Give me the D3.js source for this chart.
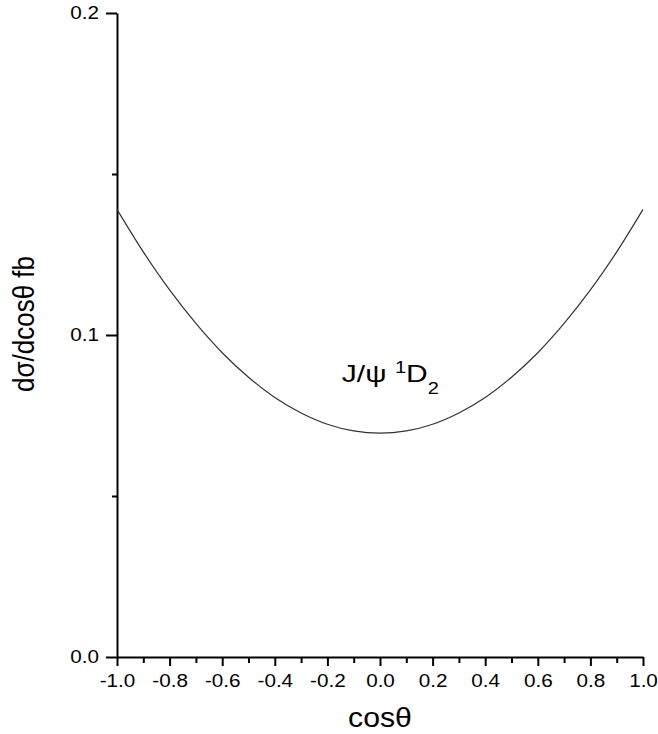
<!DOCTYPE html>
<html>
<head>
<meta charset="utf-8">
<script src="https://cdn.jsdelivr.net/npm/d3@7"></script>
<style>
  body { margin: 0; background: #fff; }
  text { font-family: "Liberation Sans", Arial, sans-serif; }
</style>
</head>
<body>
<div id="chart"></div>
<script>
// values
const cosTheta = [-1.0, -0.9, -0.8, -0.7, -0.6, -0.5, -0.4, -0.3, -0.2, -0.1, 0.0,
                  0.1, 0.2, 0.3, 0.4, 0.5, 0.6, 0.7, 0.8, 0.9, 1.0]
const dSigma = [0.139, 0.1258, 0.114, 0.1036, 0.0945, 0.0869, 0.0806, 0.0758, 0.0723, 0.0702, 0.0695,
                0.0702, 0.0723, 0.0758, 0.0806, 0.0869, 0.0945, 0.1036, 0.114, 0.1258, 0.139]
const xTicks = [-1.0, -0.8, -0.6, -0.4, -0.2, 0.0, 0.2, 0.4, 0.6, 0.8, 1.0]
const xMinor = [-0.9, -0.7, -0.5, -0.3, -0.1, 0.1, 0.3, 0.5, 0.7, 0.9]
const yTicks = [0.0, 0.1, 0.2]
const yMinor = [0.05, 0.15]

const width = 658,
height = 734,
plotLeft = 117, plotRight = 643, plotTop = 13, plotBottom = 657
// the original glyphs are a bit wider than Liberation Sans
const stretch = 1.15

let svg = d3.select('#chart')
.append('svg')
.attr('width', width)
.attr('height', height)

const xScale = d3.scaleLinear().domain([-1, 1]).range([plotLeft, plotRight])
const yScale = d3.scaleLinear().domain([0, 0.2]).range([plotBottom, plotTop])

const fmt = d => d.toFixed(1)

// x axis: major + minor ticks
const xAxis = d3.axisBottom(xScale)
.tickValues(xTicks)
.tickSize(9)
.tickSizeOuter(0)
.tickPadding(8)
.tickFormat(fmt)

svg.append('g')
.attr('class', 'xaxis')
.attr('transform', `translate(0,${plotBottom})`)
.call(xAxis)

svg.append('g')
.attr('transform', `translate(0,${plotBottom})`)
.call(d3.axisBottom(xScale).tickValues(xMinor).tickSize(6).tickSizeOuter(0).tickFormat(''))
.select('.domain').remove()

// y axis
const yAxis = d3.axisLeft(yScale)
.tickValues(yTicks)
.tickSize(11)
.tickSizeOuter(0)
.tickFormat(fmt)

svg.append('g')
.attr('class', 'yaxis')
.attr('transform', `translate(${plotLeft},0)`)
.call(yAxis)

svg.append('g')
.attr('transform', `translate(${plotLeft},0)`)
.call(d3.axisLeft(yScale).tickValues(yMinor).tickSize(5).tickSizeOuter(0).tickFormat(''))
.select('.domain').remove()

svg.selectAll('.tick line').attr('stroke', '#000').attr('stroke-width', 2)
svg.selectAll('.domain').attr('stroke', '#000').attr('stroke-width', 2)
svg.selectAll('.tick text')
.attr('font-family', '"Liberation Sans", Arial, sans-serif')
.attr('font-size', 18)
.attr('fill', '#000')
.attr('transform', `scale(${stretch},1)`)
svg.selectAll('.yaxis .tick text').attr('x', -18 / stretch)

// the curve
const line = d3.line()
.x((d, i) => xScale(cosTheta[i]))
.y(d => yScale(d))
.curve(d3.curveCatmullRom)

svg.append('path')
.datum(dSigma)
.attr('d', line)
.attr('fill', 'none')
.attr('stroke', '#333')
.attr('stroke-width', 1.2)

// annotation
const ann = svg.append('text')
.attr('transform', `translate(${xScale(-0.145)},${yScale(0.0855)}) scale(1.25,1)`)
.attr('font-size', 24)
.attr('fill', '#000')
ann.append('tspan').text('J/ψ ')
ann.append('tspan').attr('font-size', 16).attr('dy', -9).text('1')
ann.append('tspan').attr('dy', 9).text('D')
ann.append('tspan').attr('font-size', 16).attr('dy', 12).text('2')

// axis titles
svg.append('text')
.attr('transform', `translate(${(plotLeft + plotRight) / 2},727) scale(1.12,1)`)
.attr('text-anchor', 'middle')
.attr('font-size', 27)
.attr('fill', '#000')
.text('cosθ')

svg.append('text')
.attr('transform', `translate(34,324) rotate(-90) scale(1,1.12)`)
.attr('text-anchor', 'middle')
.attr('font-size', 26)
.attr('fill', '#000')
.text('dσ/dcosθ  fb')
</script>
</body>
</html>
